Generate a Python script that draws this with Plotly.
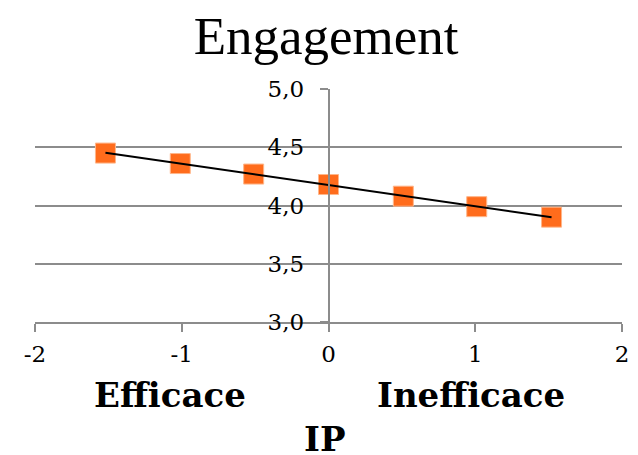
import numpy as np
import plotly.graph_objects as go

ip = [-1.52, -1.01, -0.51, 0.0, 0.51, 1.01, 1.52]
engagement = [4.45, 4.36, 4.27, 4.18, 4.08, 3.99, 3.90]
x_ticks = [-2, -1, 0, 1, 2]
x_tick_labels = ["-2", "-1", "0", "1", "2"]
y_ticks = [3.0, 3.5, 4.0, 4.5, 5.0]

slope, intercept = np.polyfit(ip, engagement, 1)
trend_x = [min(ip), max(ip)]
trend_y = [slope * v + intercept for v in trend_x]

GRID = "#8c8c8c"
SERIF = "DejaVu Serif"

fig = go.Figure()
fig.add_trace(go.Scatter(
    x=ip, y=engagement, mode="markers",
    marker=dict(symbol="square", size=20, color="#FF6C1C",
                line=dict(width=1, color="#FFB68A")),
    showlegend=False, hoverinfo="skip"))
fig.add_trace(go.Scatter(
    x=trend_x, y=trend_y, mode="lines",
    line=dict(color="black", width=2),
    showlegend=False, hoverinfo="skip"))

# the page body has an 8px default margin, so the figure is sized to fit
fig.update_layout(
    width=630, height=447,
    margin=dict(l=27, r=16, t=81, b=133, autoexpand=False),
    paper_bgcolor="white", plot_bgcolor="white",
    separators=", ",
    title=dict(text="Engagement", x=0.505, xanchor="center",
               yref="container", y=1 - 27 / 447, yanchor="middle",
               font=dict(family="Liberation Serif", size=53, color="black")),
    xaxis=dict(range=[-2, 2], tickvals=x_ticks, ticktext=x_tick_labels,
               showgrid=False, zeroline=False, automargin=False,
               showline=True, linecolor=GRID, linewidth=1.5,
               ticks="outside", ticklen=8, tickwidth=1.5, tickcolor=GRID,
               ticklabelstandoff=3,
               tickfont=dict(family=SERIF, size=23, color="black")),
    yaxis=dict(range=[3, 5], tickvals=y_ticks, tickformat=".1f",
               anchor="free", position=0.5, automargin=False,
               showgrid=True, gridcolor=GRID, gridwidth=1.5, zeroline=False,
               showline=True, linecolor=GRID, linewidth=1.5,
               ticks="outside", ticklen=8, tickwidth=1.5, tickcolor=GRID,
               ticklabelstandoff=11,
               tickfont=dict(family=SERIF, size=23, color="black")),
    annotations=[
        dict(text="<b>Efficace</b>", x=-1.083, y=-0.315, xref="x", yref="paper",
             showarrow=False, xanchor="center", yanchor="middle",
             font=dict(family=SERIF, size=34, color="black")),
        dict(text="<b>Inefficace</b>", x=0.968, y=-0.315, xref="x", yref="paper",
             showarrow=False, xanchor="center", yanchor="middle",
             font=dict(family=SERIF, size=34, color="black")),
        dict(text="<b>IP</b>", x=-0.024, y=-0.5, xref="x", yref="paper",
             showarrow=False, xanchor="center", yanchor="middle",
             font=dict(family=SERIF, size=34, color="black")),
    ],
)

fig.write_html("out.html")
